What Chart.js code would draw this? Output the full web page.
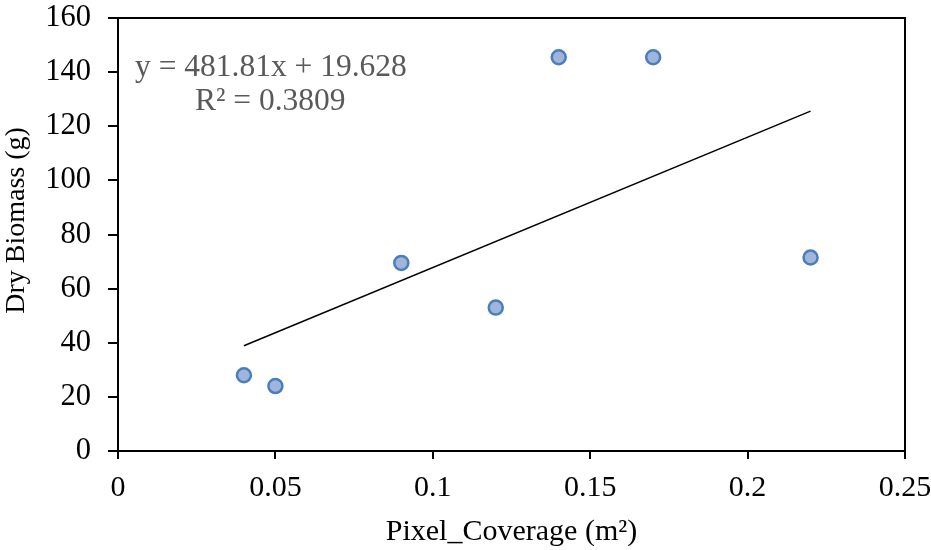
<!DOCTYPE html>
<html>
<head>
<meta charset="utf-8">
<script src="https://cdn.jsdelivr.net/npm/chart.js@4"></script>
<style>
  html, body { margin: 0; padding: 0; background: #fff; }
</style>
</head>
<body>
<canvas id="biomassChart" width="931" height="550"></canvas>
<script>
// pixel coverage (m2) vs dry biomass (g)
const coverage = [0.04, 0.05, 0.09, 0.12, 0.14, 0.17, 0.22];
const biomass = [28, 24, 69.5, 53, 145.5, 145.5, 71.5];

// linear trendline end points
const trendX = [0.04, 0.22];
const trendY = [38.9, 125.6];

const xTicks = [0, 0.05, 0.1, 0.15, 0.2, 0.25];
const yTicks = [0, 20, 40, 60, 80, 100, 120, 140, 160];

const equationLines = ['y = 481.81x + 19.628', 'R\u00b2 = 0.3809'];

const serif = "'Liberation Serif', 'Times New Roman', serif";

const frame = {
    id: 'frame',
    afterDraw(chart) {
        const { ctx, chartArea: a } = chart;
        ctx.save();
        ctx.strokeStyle = '#000';
        ctx.lineWidth = 2;
        ctx.strokeRect(a.left, a.top, a.right - a.left, a.bottom - a.top);
        ctx.fillStyle = '#595959';
        ctx.font = '31.5px ' + serif;
        ctx.textAlign = 'left';
        ctx.textBaseline = 'middle';
        ctx.fillText(equationLines[0], a.left + 17, a.top + 50);
        ctx.fillText(equationLines[1], a.left + 77, a.top + 84);
        ctx.restore();
    }
};

new Chart('biomassChart', {
    type: 'scatter',
    data: {
        datasets: [{
            data: coverage.map((x, i) => ({ x: x, y: biomass[i] })),
            backgroundColor: '#a0b5db',
            borderColor: '#4a7ebb',
            borderWidth: 2.5,
            pointRadius: 7,
            order: 1
        }, {
            data: trendX.map((x, i) => ({ x: x, y: trendY[i] })),
            showLine: true,
            borderColor: '#000',
            borderWidth: 1.5,
            pointRadius: 0,
            order: 2
        }]
    },
    plugins: [frame],
    options: {
        responsive: false,
        animation: false,
        layout: { padding: { top: 18, right: 26, left: 0, bottom: 0 } },
        plugins: {
            legend: { display: false },
            tooltip: { enabled: false }
        },
        scales: {
            x: {
                type: 'linear',
                min: 0,
                max: 0.25,
                afterBuildTicks: s => { s.ticks = xTicks.map(v => ({ value: v })); },
                afterFit: s => { s.height = 99; s.paddingLeft = 0; s.paddingRight = 0; },
                grid: { drawOnChartArea: false, drawTicks: true, tickLength: 8, color: '#000', lineWidth: 2 },
                border: { display: true, color: '#000', width: 2 },
                ticks: { color: '#000', font: { family: serif, size: 30 }, padding: 11, maxRotation: 0,
                    callback: v => String(v) },
                title: { display: true, text: 'Pixel_Coverage (m\u00b2)', color: '#000',
                    font: { family: serif, size: 30 }, padding: { top: 0, bottom: 0 } }
            },
            y: {
                min: 0,
                max: 160,
                afterBuildTicks: s => { s.ticks = yTicks.map(v => ({ value: v })); },
                afterFit: s => { s.width = 118; s.paddingTop = 0; s.paddingBottom = 0; },
                grid: { drawOnChartArea: false, drawTicks: true, tickLength: 10, color: '#000', lineWidth: 2 },
                border: { display: true, color: '#000', width: 2 },
                ticks: { color: '#000', font: { family: serif, size: 30.5 }, padding: 19 - 10 + 8 },
                title: { display: true, text: '    Dry Biomass (g)', color: '#000',
                    font: { family: serif, size: 28 }, padding: { top: 0, bottom: 4 } }
            }
        }
    }
});
</script>
</body>
</html>
